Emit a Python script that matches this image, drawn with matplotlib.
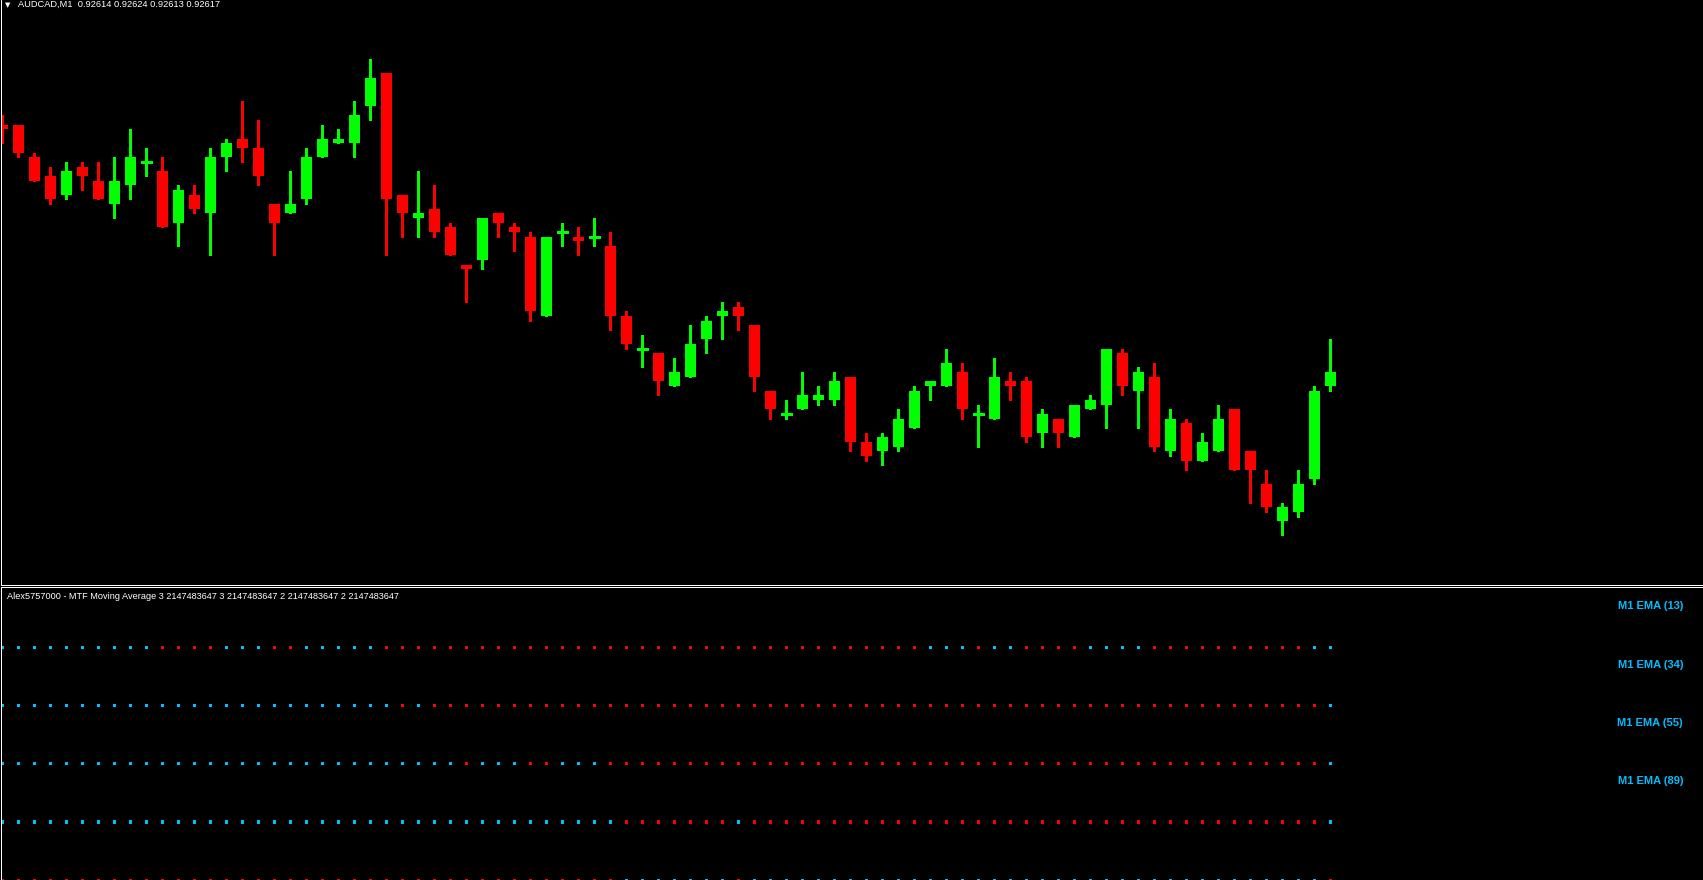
import numpy as np
import matplotlib
matplotlib.use('Agg')
import matplotlib.pyplot as plt
import matplotlib.transforms as mtransforms

# AUDCAD M1 bars
symbol = 'AUDCAD,M1'
opens = [0.92670, 0.92670, 0.92663, 0.92659, 0.92655, 0.92661, 0.92658, 0.92653, 0.92657, 0.92662,
         0.92660, 0.92649, 0.92655, 0.92651, 0.92663, 0.92667, 0.92665, 0.92653, 0.92651, 0.92654,
         0.92663, 0.92666, 0.92666, 0.92674, 0.92681, 0.92655, 0.92650, 0.92652, 0.92648, 0.92640,
         0.92641, 0.92651, 0.92648, 0.92646, 0.92629, 0.92647, 0.92646, 0.92646, 0.92644, 0.92629,
         0.92622, 0.92621, 0.92614, 0.92616, 0.92624, 0.92629, 0.92631, 0.92627, 0.92613, 0.92608,
         0.92609, 0.92611, 0.92611, 0.92616, 0.92602, 0.92600, 0.92601, 0.92605, 0.92614, 0.92614,
         0.92617, 0.92608, 0.92607, 0.92615, 0.92615, 0.92604, 0.92607, 0.92603, 0.92609, 0.92610,
         0.92621, 0.92613, 0.92616, 0.92600, 0.92606, 0.92598, 0.92600, 0.92609, 0.92600, 0.92593,
         0.92585, 0.92587, 0.92594, 0.92614]
highs = [0.92672, 0.92670, 0.92664, 0.92661, 0.92662, 0.92662, 0.92662, 0.92663, 0.92669, 0.92665,
         0.92663, 0.92657, 0.92657, 0.92665, 0.92667, 0.92675, 0.92671, 0.92653, 0.92660, 0.92665,
         0.92670, 0.92669, 0.92675, 0.92684, 0.92681, 0.92655, 0.92660, 0.92657, 0.92649, 0.92640,
         0.92650, 0.92651, 0.92649, 0.92647, 0.92646, 0.92649, 0.92648, 0.92650, 0.92647, 0.92630,
         0.92625, 0.92621, 0.92620, 0.92627, 0.92629, 0.92632, 0.92632, 0.92627, 0.92613, 0.92611,
         0.92617, 0.92614, 0.92617, 0.92616, 0.92604, 0.92604, 0.92609, 0.92614, 0.92615, 0.92622,
         0.92619, 0.92610, 0.92620, 0.92617, 0.92616, 0.92609, 0.92607, 0.92610, 0.92612, 0.92622,
         0.92622, 0.92618, 0.92619, 0.92609, 0.92607, 0.92604, 0.92610, 0.92609, 0.92600, 0.92596,
         0.92589, 0.92596, 0.92614, 0.92624]
lows = [0.92666, 0.92663, 0.92658, 0.92653, 0.92654, 0.92656, 0.92654, 0.92650, 0.92654, 0.92659,
        0.92648, 0.92644, 0.92651, 0.92642, 0.92660, 0.92662, 0.92657, 0.92642, 0.92651, 0.92653,
        0.92663, 0.92666, 0.92663, 0.92671, 0.92642, 0.92646, 0.92646, 0.92646, 0.92642, 0.92632,
        0.92639, 0.92646, 0.92643, 0.92628, 0.92629, 0.92644, 0.92642, 0.92644, 0.92626, 0.92622,
        0.92618, 0.92612, 0.92614, 0.92616, 0.92621, 0.92624, 0.92626, 0.92613, 0.92607, 0.92607,
        0.92609, 0.92610, 0.92610, 0.92600, 0.92598, 0.92597, 0.92600, 0.92605, 0.92611, 0.92614,
        0.92607, 0.92601, 0.92607, 0.92611, 0.92602, 0.92601, 0.92601, 0.92603, 0.92609, 0.92605,
        0.92612, 0.92605, 0.92600, 0.92599, 0.92596, 0.92598, 0.92600, 0.92596, 0.92589, 0.92587,
        0.92582, 0.92586, 0.92593, 0.92613]
closes = [0.92669, 0.92664, 0.92658, 0.92654, 0.92660, 0.92659, 0.92654, 0.92658, 0.92663, 0.92662,
          0.92648, 0.92656, 0.92652, 0.92663, 0.92666, 0.92665, 0.92659, 0.92649, 0.92653, 0.92663,
          0.92667, 0.92667, 0.92672, 0.92680, 0.92654, 0.92651, 0.92651, 0.92647, 0.92642, 0.92639,
          0.92650, 0.92649, 0.92647, 0.92630, 0.92646, 0.92647, 0.92645, 0.92646, 0.92629, 0.92623,
          0.92622, 0.92615, 0.92617, 0.92623, 0.92628, 0.92630, 0.92629, 0.92616, 0.92609, 0.92608,
          0.92612, 0.92612, 0.92615, 0.92602, 0.92599, 0.92603, 0.92607, 0.92613, 0.92615, 0.92619,
          0.92609, 0.92608, 0.92616, 0.92614, 0.92603, 0.92608, 0.92604, 0.92610, 0.92611, 0.92622,
          0.92614, 0.92617, 0.92601, 0.92607, 0.92598, 0.92602, 0.92607, 0.92596, 0.92596, 0.92588,
          0.92588, 0.92593, 0.92613, 0.92617]

# MTF moving average state per bar: 1 = rising (blue), 0 = falling (red)
ma_labels = ['M1 EMA (13)', 'M1 EMA (34)', 'M1 EMA (55)', 'M1 EMA (89)']
ema13 = ('111111111100' '001110011111' '000000000000' '000000000000'
         '000000000011' '101100001111' '000000000011')
ema34 = ('111111111111' '111111111111' '101000000000' '000000000000'
         '000000000000' '000000000000' '000000000001')
ema55 = ('111111111111' '111111111111' '111110111001' '110000000000'
         '000000000000' '000000000000' '000000000001')
ema89 = ('111111111111' '111111111111' '111111111111' '111000000010'
         '000000000000' '000000000000' '000000000001')
row5 = ('000000000000' '000000000000' '000000000000' '000111111101'
        '111111111111' '111111111111' '111111111110')
ma_rows = [ema13, ema34, ema55, ema89, row5]
indicator_name = 'Alex5757000 - MTF Moving Average 3 2147483647 3 2147483647 2 2147483647 2 2147483647'

BULL = '#00FF00'
BEAR = '#FF0000'
BLUE = '#00BFFF'

W, H = 1703, 880
fig = plt.figure(figsize=(W / 100, H / 100), dpi=100, facecolor='black')


def px_axes(x0, y0, x1, y1):
    # box given in pixels, origin top-left
    a = fig.add_axes([x0 / W, 1 - y1 / H, (x1 - x0) / W, (y1 - y0) / H])
    a.set_facecolor('black')
    a.set_xticks([])
    a.set_yticks([])
    for s in a.spines.values():
        s.set_visible(False)
    return a


ax = px_axes(1, 0, W, 585)
ax2 = px_axes(1, 587, W, H)
for a, edges in ((ax, ('left', 'bottom')), (ax2, ('left', 'top'))):
    for e in edges:
        a.spines[e].set_visible(True)
        a.spines[e].set_color('white')
        a.spines[e].set_linewidth(0.72)
        a.spines[e].set_antialiased(False)

o = np.array(opens)
h = np.array(highs)
l = np.array(lows)
c = np.array(closes)
n = len(o)
x = np.arange(n)

doji = np.isclose(o, c, rtol=0, atol=1e-7)
up = (c > o) | doji
cols = np.where(up, BULL, BEAR)
ax.vlines(x, l, h, colors=cols, lw=0.75, antialiased=False)
ax.bar(x, np.abs(c - o), bottom=np.minimum(o, c), width=0.69, color=cols,
       linewidth=0, antialiased=False)
ax.hlines(o[doji], x[doji] - 0.345, x[doji] + 0.345, colors=cols[doji], lw=0.75,
          antialiased=False)

# 16 px per bar, 14/3 px per point
x0 = -1.3 / 16
ax.set_xlim(x0, x0 + (W - 1) / 16)
ref_px, ref_price = 372, closes[-1]
ax.set_ylim(ref_price - (585 - ref_px) * 3 / 14 * 1e-5, ref_price + ref_px * 3 / 14 * 1e-5)

levels = [4, 3, 2, 1, 0]
for lvl, row in zip(levels, ma_rows):
    ups = np.array([ch == '1' for ch in row])
    ax2.scatter(x, np.full(n, lvl), c=np.where(ups, BLUE, BEAR), marker='s', s=5,
                linewidths=0)
ax2.set_xlim(x0, x0 + (W - 1) / 16)
ax2.set_ylim(0.005, 5.035)

tr = mtransforms.blended_transform_factory(ax2.transAxes, ax2.transData)
for lvl, lab in zip(levels, ma_labels):
    ax2.text((1683 - 1) / (W - 1), lvl + 0.652, lab, transform=tr, ha='right',
             va='baseline', color=BLUE, fontsize=8, fontweight='bold',
             family='Liberation Sans')

title = '%s  %.5f %.5f %.5f %.5f' % (symbol, opens[-1], highs[-1], lows[-1], closes[-1])
fig.text(5 / W, 1 - 7 / H, '\u25bc', color='white', fontsize=5, ha='left',
         va='baseline', family='DejaVu Sans')
fig.text(18 / W, 1 - 7 / H, title, color='white', fontsize=6.7, ha='left',
         va='baseline', family='Liberation Sans')
fig.text(7 / W, 1 - 599 / H, indicator_name, color='white', fontsize=6.6, ha='left',
         va='baseline', family='Liberation Sans')

fig.savefig('out.png', dpi=100, facecolor='black')
